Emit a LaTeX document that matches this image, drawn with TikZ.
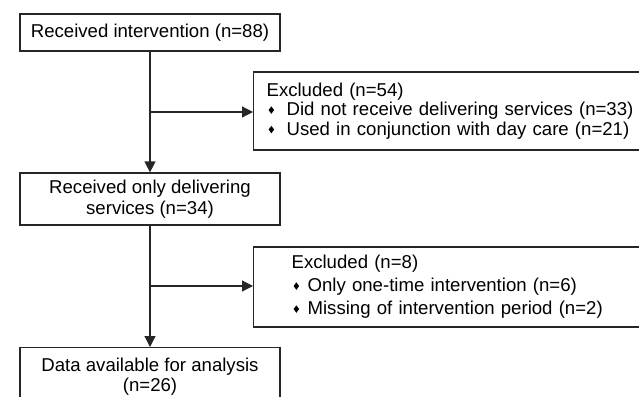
\documentclass[tikz,border=0pt]{standalone}
\usepackage{fontspec}
\setmainfont{Liberation Sans}
\usetikzlibrary{arrows.meta}
\newcommand\mydia{\tikz[baseline=0pt]\fill[black] (2.75pt,2pt)--(5.5pt,5.75pt)--(2.75pt,9.5pt)--(0pt,5.75pt)--cycle;}
\tikzset{
  box/.style={draw=black!85, line width=1.2pt, inner sep=0pt, text=black},
  arr/.style={draw=black!85, line width=1.2pt, -{Triangle[length=11pt,width=11pt]}},
  ln/.style={draw=black!85, line width=1.2pt},
}
\begin{document}
\begin{tikzpicture}[x=1pt,y=-1pt]
\clip (0,0) rectangle (639,396);
\useasboundingbox (0,0) rectangle (639,396);
\node[box, minimum width=260pt, minimum height=37pt, font=\fontsize{18.6}{21}\selectfont] (b1) at (150,32.5) {Received intervention (n=88)};
\node[box, minimum width=260pt, minimum height=52pt, align=center, font=\fontsize{18.6}{21}\selectfont] (b2) at (150,199) {Received only delivering\\services (n=34)};
\node[box, anchor=north, minimum width=260pt, inner ysep=10.7pt, align=center, font=\fontsize{18.6}{20}\selectfont] (b3) at (150,347) {Data available for analysis\\(n=26)};
\node[box, anchor=west, minimum height=78pt, inner xsep=13pt, text width=380pt, align=left, font=\fontsize{18.6}{19.5}\selectfont] (e1) at (253,111) {Excluded (n=54)\\\hspace*{2pt}\makebox[18pt][l]{\mydia}Did not receive delivering services (n=33)\\\hspace*{2pt}\makebox[18pt][l]{\mydia}Used in conjunction with day care (n=21)};
\node[box, anchor=west, minimum height=80pt, inner xsep=38pt, text width=360pt, align=left, font=\fontsize{18.6}{23}\selectfont] (e2) at (253,287) {Excluded (n=8)\\\hspace*{2pt}\makebox[14pt][l]{\mydia}Only one-time intervention (n=6)\\\hspace*{2pt}\makebox[14pt][l]{\mydia}Missing of intervention period (n=2)};
\coordinate (j1) at (150,112);
\coordinate (j2) at (150,286);
\draw[arr] (b1) -- (b2);
\draw[arr] (b2) -- (b3);
\draw[arr] (j1) -- (j1 -| e1.west);
\draw[arr] (j2) -- (j2 -| e2.west);
\end{tikzpicture}
\end{document}
